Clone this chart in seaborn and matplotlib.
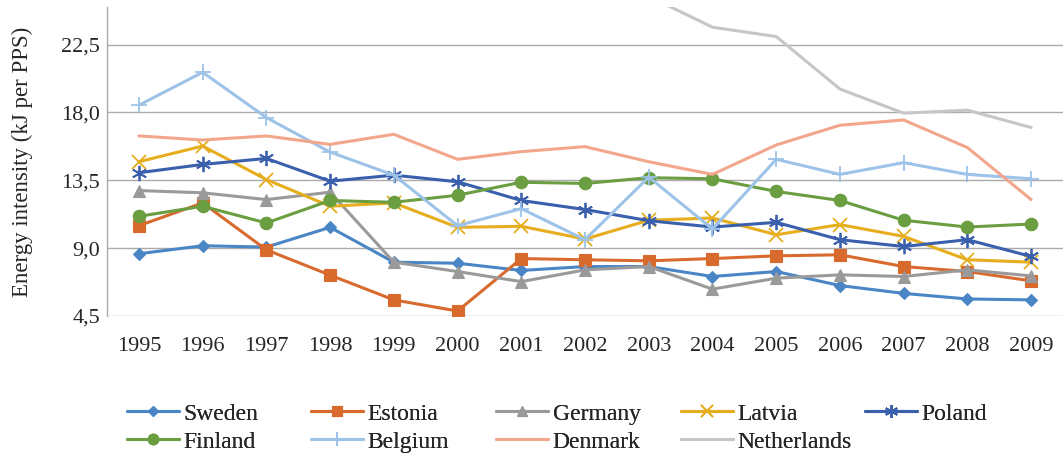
import numpy as np
import pandas as pd
import seaborn as sns
import matplotlib
matplotlib.use("Agg")
import matplotlib.pyplot as plt
from matplotlib.lines import Line2D
from matplotlib.ticker import FuncFormatter

years = list(range(1995, 2010))

sweden = [8.63, 9.16, 9.07, 10.38, 8.07, 8.00, 7.52, 7.78, 7.78, 7.12, 7.45, 6.52, 6.00, 5.63, 5.57]
estonia = [10.49, 12.00, 8.89, 7.21, 5.57, 4.83, 8.31, 8.23, 8.16, 8.31, 8.49, 8.56, 7.78, 7.45, 6.83]
germany = [12.82, 12.67, 12.22, 12.71, 8.07, 7.45, 6.78, 7.56, 7.78, 6.28, 7.01, 7.23, 7.12, 7.56, 7.16]
latvia = [14.73, 15.77, 13.55, 11.78, 12.00, 10.38, 10.45, 9.60, 10.85, 11.00, 9.89, 10.56, 9.78, 8.23, 8.07]
poland = [14.00, 14.55, 14.95, 13.44, 13.84, 13.40, 12.16, 11.56, 10.82, 10.40, 10.71, 9.56, 9.11, 9.56, 8.45]
finland = [11.11, 11.78, 10.67, 12.16, 12.04, 12.51, 13.37, 13.29, 13.67, 13.60, 12.76, 12.16, 10.85, 10.40, 10.60]
belgium = [18.48, 20.66, 17.66, 15.37, 13.84, 10.49, 11.62, 9.56, 13.71, 10.27, 14.89, 13.89, 14.67, 13.89, 13.60]
denmark = [16.44, 16.17, 16.44, 15.88, 16.55, 14.89, 15.40, 15.73, 14.73, 13.89, 15.84, 17.15, 17.50, 15.67, 12.22]
netherlands = [np.nan] * 8 + [25.70, 23.65, 23.03, 19.55, 17.95, 18.15, 17.00]

series_names = ["Sweden", "Estonia", "Germany", "Latvia", "Poland",
                "Finland", "Belgium", "Denmark", "Netherlands"]
series_values = [sweden, estonia, germany, latvia, poland,
                 finland, belgium, denmark, netherlands]
colors = ["#4A86C5", "#D96A2E", "#9A9A9A", "#E6AE1F", "#3A5FAD",
          "#6A9E40", "#9DC3E8", "#F2A68B", "#C6C6C8"]
markers = ["D", "s", "^", "x", (6, 2, 0), "o", "+", None, None]
msizes = [6.5, 8.5, 8.5, 10, 11, 9, 12, 0, 0]

sns.set_theme(style="white")
plt.rcParams["font.family"] = ["Liberation Serif", "DejaVu Serif"]

fig = plt.figure(figsize=(10.63, 4.57), dpi=100)
ax = fig.add_axes([0.1007, 0.3085, 0.8993, 0.6765])

rows = []
for name, vals in zip(series_names, series_values):
    for y, v in zip(years, vals):
        rows.append({"year": y, "value": v, "country": name})
df = pd.DataFrame(rows)


def mew(mk):
    return 1.3 if mk in ("x", "+") or isinstance(mk, tuple) else 0.8


for name, col, mk, ms in zip(series_names, colors, markers, msizes):
    sub = df[df["country"] == name]
    kw = {}
    if mk is not None:
        kw = dict(marker=mk, markersize=ms, markeredgecolor=col,
                  markerfacecolor=col, markeredgewidth=mew(mk))
    sns.lineplot(data=sub, x="year", y="value", color=col, linewidth=2.2,
                 ax=ax, legend=False, errorbar=None, sort=False, **kw)

ax.set_xlim(1994.5, 2009.5)
ax.set_ylim(4.5, 25.0)
ax.set_xticks(years)
ax.set_xticklabels([str(y) for y in years], fontsize=16)
ax.set_yticks([4.5, 9.0, 13.5, 18.0, 22.5])
ax.yaxis.set_major_formatter(FuncFormatter(lambda v, p: f"{v:.1f}".replace(".", ",")))
ax.tick_params(axis="y", labelsize=16, length=0, pad=5)
ax.tick_params(axis="x", length=0, pad=15)
ax.grid(axis="y", color="#AAAAAA", linewidth=1.0)
ax.grid(axis="x", visible=False)
for s in ["top", "right", "bottom"]:
    ax.spines[s].set_visible(False)
ax.spines["left"].set_color("#AAAAAA")
ax.spines["left"].set_linewidth(1.0)
ax.set_xlabel("")
ax.set_ylabel("Energy intensity (kJ per PPS)", fontsize=16.5)
ax.yaxis.set_label_coords(-0.077, 0.5)

# legend: 5 columns, 2 rows, evenly spaced as in the reference
handles = []
for name, col, mk, ms in zip(series_names, colors, markers, msizes):
    if mk is None:
        h = Line2D([], [], color=col, linewidth=2.2)
    else:
        h = Line2D([], [], color=col, linewidth=2.2, marker=mk,
                   markersize=ms * 0.85, markeredgecolor=col, markerfacecolor=col,
                   markeredgewidth=mew(mk))
    handles.append(h)

col_x = [127, 311, 496, 681, 865]
for c in range(5):
    idx = [c, c + 5]
    hs = [handles[i] for i in idx if i < len(handles)]
    labs = [series_names[i] for i in idx if i < len(series_names)]
    leg = fig.legend(hs, labs, loc="upper left",
                     bbox_to_anchor=(col_x[c] / 1063, 1 - 403 / 457),
                     frameon=False, fontsize=17, handlelength=2.2,
                     handletextpad=0.2, labelspacing=0.28, borderaxespad=0,
                     borderpad=0)
    fig.add_artist(leg)

fig.savefig("out.png", dpi=100)
